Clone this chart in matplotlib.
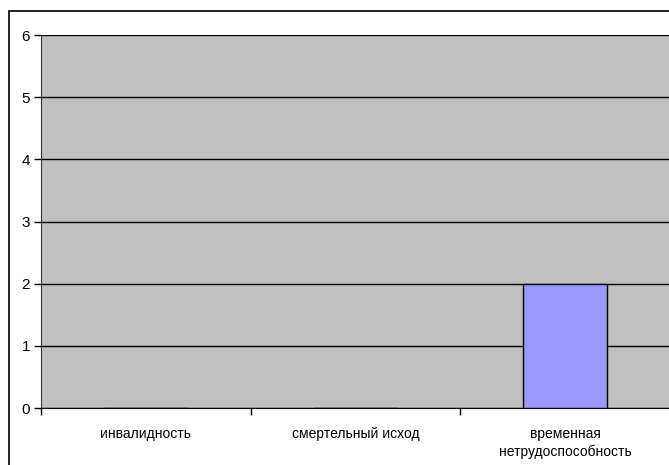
import matplotlib
matplotlib.use('Agg')
import matplotlib.pyplot as plt
from matplotlib.patches import Rectangle

categories = ['инвалидность', 'смертельный исход', 'временная\nнетрудоспособность']
values = [0, 0, 2]
yticks = [0, 1, 2, 3, 4, 5, 6]

plt.rcParams['font.family'] = ['Liberation Sans', 'DejaVu Sans']

W, H = 669, 465
fig = plt.figure(figsize=(W / 100, H / 100), dpi=100)

# outer chart frame (cut off on right and bottom)
fig.patches.append(Rectangle((8.5 / W, -0.1), 1.2, (H - 11.5) / H + 0.1,
                             transform=fig.transFigure, fill=False,
                             edgecolor='black', linewidth=1.2))

ax = fig.add_axes([41 / W, (H - 408) / H, (670 - 41) / W, (408 - 35) / H])
ax.set_facecolor('#C0C0C0')

x = list(range(len(categories)))
ax.bar(x, values, width=0.4, color='#9999FF', edgecolor='black',
       linewidth=1, zorder=3)

ax.set_xlim(-0.5, len(categories) - 0.5)
ax.set_ylim(0, 6)
ax.set_yticks(yticks)
ax.yaxis.grid(True, color='black', linewidth=1, zorder=1)
ax.set_axisbelow(True)

ax.set_xticks(x)
ax.set_xticklabels(categories, fontsize=10, linespacing=1.25)
ax.tick_params(axis='x', length=0, pad=14)
ax.set_xticks([i + 0.5 for i in x[:-1]] + [-0.5], minor=True)
ax.tick_params(axis='x', which='minor', length=5, width=1, color='black')
ax.tick_params(axis='y', length=5, width=1, labelsize=11, pad=3)

for s in ['top', 'right']:
    ax.spines[s].set_visible(False)
ax.spines['left'].set_color('#333333')
ax.spines['bottom'].set_color('black')

fig.savefig('out.png', dpi=100)
